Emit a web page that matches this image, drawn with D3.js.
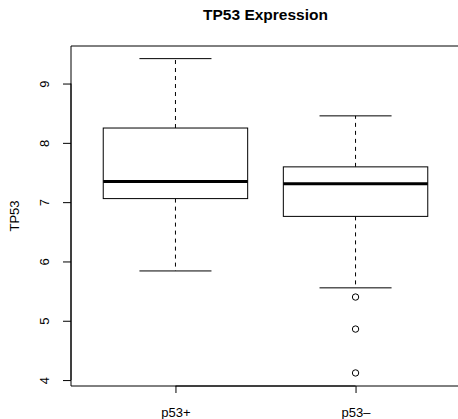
<!DOCTYPE html>
<html>
<head>
<meta charset="utf-8">
<script src="https://cdn.jsdelivr.net/npm/d3@7"></script>
<style>
html,body{margin:0;padding:0;background:#fff;}
svg{display:block;}
text{font-family:"Liberation Sans",Arial,Helvetica,sans-serif;fill:#000;}
</style>
</head>
<body>
<script>
// ---- data ----
const categories = ["p53+", "p53\u2013"];
const whiskerLow = [5.84, 5.555];
const q1 = [7.06, 6.76];
const median = [7.35, 7.31];
const q3 = [8.25, 7.595];
const whiskerHigh = [9.42, 8.455];
const outliers = [[], [5.40, 4.86, 4.12]];
const yTicks = [4, 5, 6, 7, 8, 9];
const title = "TP53 Expression";
const yLabel = "TP53";

const W = 458, H = 419;
const plotLeft = 71, plotRight = 460, plotTop = 46, plotBottom = 386;

const svg = d3.select("body").append("svg").attr("width", W).attr("height", H);

const x = d3.scaleLinear().domain([0.42, 2.58]).range([plotLeft, plotRight]);
const y = d3.scaleLinear().domain([3.9, 9.633]).range([plotBottom, plotTop]);

// plot frame (left, top, bottom)
svg.append("path")
  .attr("d", `M${plotRight},${plotTop}H${plotLeft}V${plotBottom}H${plotRight}`)
  .attr("fill", "none").attr("stroke", "#000").attr("stroke-width", 1);

// y axis
const yAxis = d3.axisLeft(y).tickValues(yTicks).tickSize(8).tickPadding(0).tickFormat(d3.format("d"));
const gy = svg.append("g").attr("transform", `translate(${plotLeft},0)`).call(yAxis);
gy.select(".domain").remove();
gy.append("line").attr("x1", 0).attr("x2", 0).attr("y1", y(yTicks[0])).attr("y2", y(yTicks[yTicks.length-1])).attr("stroke", "#000");
gy.selectAll(".tick line").attr("stroke", "#000");
gy.selectAll(".tick text")
  .attr("x", null).attr("dy", null)
  .attr("transform", "translate(-22,0) rotate(-90)")
  .attr("text-anchor", "middle")
  .style("font-size", "13px").style("font-family", "Liberation Sans, Arial, sans-serif");

// x axis
const idx = categories.map((c, i) => i + 1);
const xAxis = d3.axisBottom(x).tickValues(idx).tickSize(7).tickPadding(0).tickFormat((d) => categories[d - 1]);
const gx = svg.append("g").attr("transform", `translate(0,${plotBottom})`).call(xAxis);
gx.select(".domain").remove();
gx.append("line").attr("x1", x(1)).attr("x2", x(categories.length)).attr("y1", 0).attr("y2", 0).attr("stroke", "#000");
gx.selectAll(".tick line").attr("stroke", "#000");
gx.selectAll(".tick text")
  .attr("y", 31).attr("dy", null)
  .style("font-size", "13px").style("font-family", "Liberation Sans, Arial, sans-serif");

// boxes
const boxHalf = 0.401, capHalf = 0.2;
const g = svg.append("g");
categories.forEach((c, i) => {
  const cx = x(i + 1);
  const bw = x(i + 1 + boxHalf) - cx;
  const cw = x(i + 1 + capHalf) - cx;
  // whiskers (dashed)
  g.append("line").attr("x1", cx).attr("x2", cx).attr("y1", y(q3[i])).attr("y2", y(whiskerHigh[i]))
    .attr("stroke", "#000").attr("stroke-dasharray", "4,4");
  g.append("line").attr("x1", cx).attr("x2", cx).attr("y1", y(q1[i])).attr("y2", y(whiskerLow[i]))
    .attr("stroke", "#000").attr("stroke-dasharray", "4,4");
  // caps
  g.append("line").attr("x1", cx - cw).attr("x2", cx + cw).attr("y1", y(whiskerHigh[i])).attr("y2", y(whiskerHigh[i])).attr("stroke", "#000");
  g.append("line").attr("x1", cx - cw).attr("x2", cx + cw).attr("y1", y(whiskerLow[i])).attr("y2", y(whiskerLow[i])).attr("stroke", "#000");
  // box
  g.append("rect").attr("x", cx - bw).attr("width", 2 * bw)
    .attr("y", y(q3[i])).attr("height", y(q1[i]) - y(q3[i]))
    .attr("fill", "#fff").attr("stroke", "#000");
  // median
  g.append("line").attr("x1", cx - bw).attr("x2", cx + bw).attr("y1", y(median[i])).attr("y2", y(median[i]))
    .attr("stroke", "#000").attr("stroke-width", 3);
  // outliers
  outliers[i].forEach(v => {
    g.append("circle").attr("cx", cx).attr("cy", y(v)).attr("r", 3.2)
      .attr("fill", "none").attr("stroke", "#000");
  });
});

// title
svg.append("text").attr("x", (plotLeft + plotRight) / 2).attr("y", 19.5)
  .attr("text-anchor", "middle").style("font-weight", "bold").style("font-size", "15.5px")
  .text(title);

// y label
svg.append("text").attr("transform", `translate(19,${(plotTop + plotBottom) / 2}) rotate(-90)`)
  .attr("text-anchor", "middle").style("font-size", "13px")
  .text(yLabel);
</script>
</body>
</html>
